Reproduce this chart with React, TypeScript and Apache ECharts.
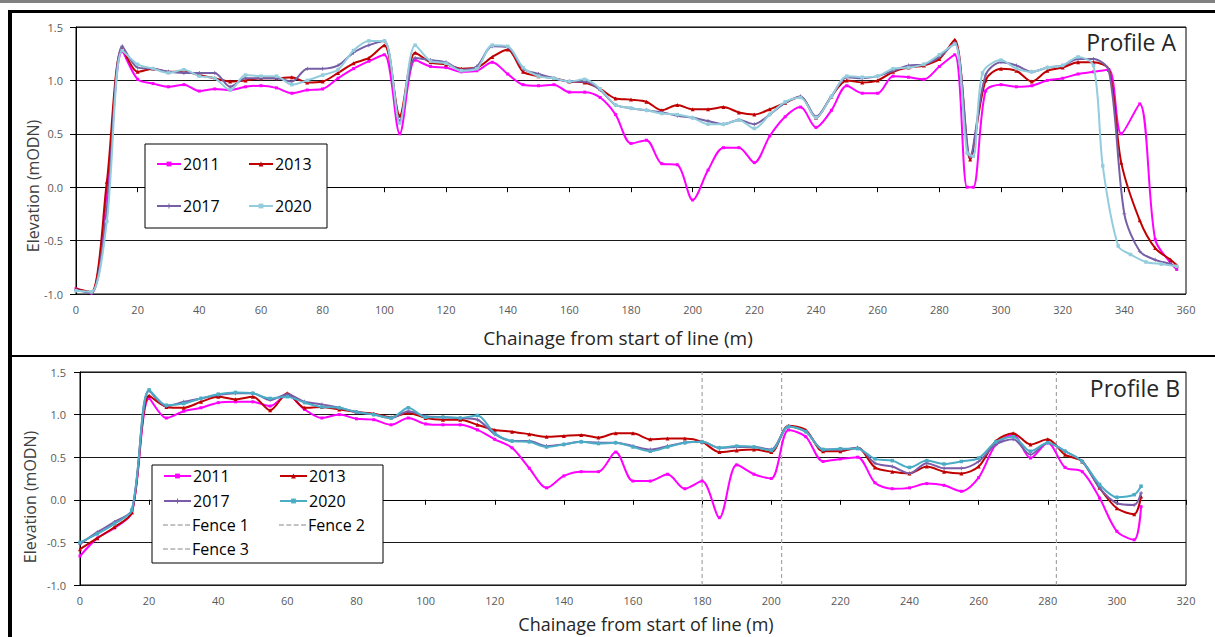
import React, { useEffect, useRef } from "react";
import * as echarts from "echarts";

// ---------- Profile A (chainage m, elevation mODN) ----------
const profileA2011 = [[0,-0.95],[5,-0.99],[10,-0.05],[15,1.27],[20,1.01],[25,0.97],[30,0.94],[35,0.96],[40,0.90],[45,0.92],[50,0.91],[55,0.94],[60,0.95],[65,0.93],[70,0.88],[75,0.91],[80,0.92],[85,1.02],[90,1.11],[95,1.18],[100,1.24],[105,0.50],[110,1.19],[115,1.13],[120,1.12],[125,1.08],[130,1.09],[135,1.17],[140,1.06],[145,0.96],[150,0.95],[155,0.96],[160,0.89],[165,0.89],[170,0.84],[175,0.68],[180,0.41],[185,0.44],[190,0.22],[195,0.21],[200,-0.12],[205,0.16],[210,0.37],[215,0.37],[220,0.23],[225,0.48],[230,0.66],[235,0.75],[240,0.56],[245,0.72],[250,0.95],[255,0.88],[260,0.88],[265,1.04],[270,1.03],[275,1.01],[280,1.13],[285,1.24],[289,0.0],[291,0.0],[295,0.90],[300,0.96],[305,0.94],[310,0.95],[315,1.0],[320,1.02],[325,1.06],[330,1.08],[335,1.10],[339,0.50],[345,0.78],[350,-0.49],[355,-0.71],[357,-0.77]];
const profileA2013 = [[0,-0.95],[5,-0.98],[10,0.05],[15,1.30],[20,1.08],[25,1.11],[30,1.08],[35,1.08],[40,1.05],[45,1.02],[50,0.99],[55,1.0],[60,1.02],[65,1.02],[70,1.03],[75,0.98],[80,0.99],[85,1.07],[90,1.16],[95,1.21],[100,1.33],[105,0.67],[110,1.26],[115,1.17],[120,1.15],[125,1.11],[130,1.12],[135,1.22],[140,1.29],[145,1.08],[150,1.04],[155,1.02],[160,0.99],[165,0.98],[170,0.92],[175,0.83],[180,0.82],[185,0.80],[190,0.72],[195,0.77],[200,0.73],[205,0.73],[210,0.75],[215,0.70],[220,0.68],[225,0.73],[230,0.79],[235,0.85],[240,0.65],[245,0.85],[250,1.0],[255,0.98],[260,1.0],[265,1.08],[270,1.12],[275,1.14],[280,1.20],[285,1.38],[290,0.26],[295,1.0],[300,1.11],[305,1.09],[310,0.99],[315,1.09],[320,1.12],[325,1.17],[330,1.17],[335,1.10],[339,0.23],[345,-0.31],[350,-0.57],[355,-0.68],[357,-0.73]];
const profileA2017 = [[0,-0.96],[5,-0.99],[10,-0.2],[15,1.32],[20,1.12],[25,1.11],[30,1.08],[35,1.07],[40,1.07],[45,1.07],[50,0.94],[55,1.02],[60,1.02],[65,1.02],[70,0.99],[75,1.11],[80,1.11],[85,1.14],[90,1.26],[95,1.33],[100,1.37],[105,0.62],[110,1.21],[115,1.19],[120,1.17],[125,1.10],[130,1.13],[135,1.32],[140,1.31],[145,1.11],[150,1.06],[155,1.02],[160,0.99],[165,0.99],[170,0.91],[175,0.77],[180,0.74],[185,0.72],[190,0.70],[195,0.67],[200,0.65],[205,0.62],[210,0.59],[215,0.63],[220,0.59],[225,0.68],[230,0.79],[235,0.85],[240,0.66],[245,0.85],[250,1.03],[255,1.02],[260,1.04],[265,1.09],[270,1.14],[275,1.15],[280,1.22],[285,1.35],[290,0.29],[295,1.05],[300,1.17],[305,1.14],[310,1.08],[315,1.12],[320,1.14],[325,1.20],[330,1.20],[335,1.09],[340,-0.25],[345,-0.60],[350,-0.68],[355,-0.72],[357,-0.75]];
const profileA2020 = [[0,-0.97],[5,-0.98],[10,-0.32],[15,1.28],[20,1.15],[25,1.11],[30,1.07],[35,1.10],[40,1.04],[45,1.02],[50,0.91],[55,1.05],[60,1.04],[65,1.04],[70,0.96],[75,1.0],[80,1.05],[85,1.10],[90,1.28],[95,1.37],[100,1.37],[105,0.60],[110,1.33],[115,1.18],[120,1.16],[125,1.09],[130,1.11],[135,1.33],[140,1.32],[145,1.12],[150,1.04],[155,1.02],[160,0.99],[165,1.01],[170,0.92],[175,0.77],[180,0.74],[185,0.72],[190,0.69],[195,0.68],[200,0.65],[205,0.59],[210,0.59],[215,0.63],[220,0.55],[225,0.68],[230,0.80],[235,0.84],[240,0.65],[245,0.85],[250,1.04],[255,1.03],[260,1.04],[265,1.11],[270,1.12],[275,1.15],[280,1.24],[285,1.34],[289,0.32],[291,0.29],[294,1.07],[300,1.19],[305,1.11],[310,1.08],[315,1.12],[320,1.14],[325,1.22],[330,1.14],[333,0.20],[338,-0.55],[342,-0.63],[347,-0.70],[352,-0.72],[357,-0.74]];

// ---------- Profile B ----------
const profileB2011 = [[0,-0.66],[5,-0.45],[10,-0.33],[15,-0.15],[20,1.19],[25,0.96],[30,1.04],[35,1.08],[40,1.14],[45,1.15],[50,1.15],[55,1.10],[60,1.23],[65,1.06],[70,0.96],[75,1.0],[80,0.95],[85,0.94],[90,0.88],[95,0.96],[100,0.89],[105,0.88],[110,0.88],[115,0.82],[120,0.71],[125,0.61],[130,0.37],[135,0.14],[140,0.28],[145,0.33],[150,0.33],[155,0.56],[160,0.22],[165,0.22],[170,0.30],[175,0.13],[180,0.22],[185,-0.21],[190,0.41],[195,0.30],[200,0.25],[205,0.82],[210,0.74],[215,0.45],[220,0.48],[225,0.50],[230,0.20],[235,0.13],[240,0.14],[245,0.19],[250,0.17],[255,0.10],[260,0.26],[265,0.65],[270,0.76],[275,0.49],[280,0.67],[285,0.38],[290,0.33],[295,0.02],[300,-0.37],[305,-0.47],[307,-0.08]];
const profileB2013 = [[0,-0.58],[5,-0.45],[10,-0.32],[15,-0.15],[20,1.22],[25,1.09],[30,1.08],[35,1.15],[40,1.21],[45,1.18],[50,1.21],[55,1.05],[60,1.25],[65,1.08],[70,1.09],[75,1.06],[80,1.03],[85,1.01],[90,0.97],[95,1.02],[100,0.96],[105,0.94],[110,0.94],[115,0.88],[120,0.82],[125,0.80],[130,0.77],[135,0.74],[140,0.75],[145,0.76],[150,0.73],[155,0.78],[160,0.78],[165,0.71],[170,0.72],[175,0.72],[180,0.68],[185,0.56],[190,0.58],[195,0.59],[200,0.56],[205,0.87],[210,0.82],[215,0.57],[220,0.57],[225,0.61],[230,0.38],[235,0.33],[240,0.31],[245,0.39],[250,0.33],[255,0.31],[260,0.39],[265,0.69],[270,0.78],[275,0.65],[280,0.71],[285,0.53],[290,0.45],[295,0.14],[300,-0.10],[305,-0.17],[307,0.04]];
const profileB2017 = [[0,-0.52],[5,-0.38],[10,-0.26],[15,-0.12],[20,1.28],[25,1.10],[30,1.15],[35,1.19],[40,1.23],[45,1.25],[50,1.25],[55,1.17],[60,1.24],[65,1.15],[70,1.12],[75,1.08],[80,1.03],[85,1.0],[90,0.96],[95,1.04],[100,0.98],[105,0.97],[110,0.96],[115,0.94],[120,0.77],[125,0.69],[130,0.69],[135,0.63],[140,0.65],[145,0.68],[150,0.67],[155,0.67],[160,0.63],[165,0.59],[170,0.63],[175,0.67],[180,0.68],[185,0.61],[190,0.62],[195,0.62],[200,0.59],[205,0.86],[210,0.80],[215,0.59],[220,0.59],[225,0.61],[230,0.43],[235,0.39],[240,0.31],[245,0.43],[250,0.37],[255,0.37],[260,0.45],[265,0.65],[270,0.71],[275,0.53],[280,0.67],[285,0.57],[290,0.45],[295,0.14],[300,-0.04],[305,-0.06],[307,0.08]];
const profileB2020 = [[0,-0.50],[5,-0.40],[10,-0.28],[15,-0.12],[20,1.29],[25,1.11],[30,1.13],[35,1.19],[40,1.24],[45,1.26],[50,1.25],[55,1.19],[60,1.21],[65,1.14],[70,1.09],[75,1.08],[80,1.03],[85,1.0],[90,0.96],[95,1.08],[100,0.97],[105,0.97],[110,0.96],[115,0.99],[120,0.78],[125,0.69],[130,0.68],[135,0.62],[140,0.65],[145,0.68],[150,0.66],[155,0.67],[160,0.62],[165,0.57],[170,0.62],[175,0.67],[180,0.68],[185,0.61],[190,0.63],[195,0.62],[200,0.58],[205,0.86],[210,0.80],[215,0.59],[220,0.60],[225,0.60],[230,0.48],[235,0.46],[240,0.38],[245,0.46],[250,0.42],[255,0.45],[260,0.49],[265,0.68],[270,0.74],[275,0.57],[280,0.67],[285,0.57],[290,0.45],[295,0.18],[300,0.03],[305,0.06],[307,0.16]];

const fenceChainage = [180, 203, 282.5];
const fenceNames = ["Fence 1", "Fence 2", "Fence 3"];
const elevationRange = [-1.0, 1.5];
const yearNames = ["2011", "2013", "2017", "2020"];

const FONT = "Open Sans";
const crossSymbol = "path://M2,0H3V2H5V3H3V5H2V3H0V2H2Z";
const dashIcon = "path://M0,0H6V2H0Z M9,0H15V2H9Z M18,0H24V2H18Z M27,0H33V2H27Z";

export default function App() {
  const ref = useRef<HTMLDivElement>(null);
  useEffect(() => {
    if (!ref.current) return;
    const chart = echarts.init(ref.current, null, { renderer: "svg" });

    const colorsA = ["#FF00FF", "#C00000", "#7560A6", "#93CDDD"];
    const colorsB = ["#FF00FF", "#C00000", "#7A5CA8", "#4BACC6"];
    const symbols = ["rect", "triangle", crossSymbol, "rect"];
    const symSizes = [3, 4, 4, 3.5];
    const dataA = [profileA2011, profileA2013, profileA2017, profileA2020];
    const dataB = [profileB2011, profileB2013, profileB2017, profileB2020];

    const series: any[] = [];
    yearNames.forEach((y, i) => {
      series.push({
        name: "A" + y, type: "line", xAxisIndex: 0, yAxisIndex: 0,
        data: dataA[i], smooth: 0.3, symbol: symbols[i], symbolSize: symSizes[i],
        showSymbol: true, color: colorsA[i],
        lineStyle: { width: 2, color: colorsA[i] }, itemStyle: { color: colorsA[i] }, z: 2 + i * 0.1,
      });
    });
    yearNames.forEach((y, i) => {
      series.push({
        name: "B" + y, type: "line", xAxisIndex: 1, yAxisIndex: 1,
        data: dataB[i], smooth: 0.3, symbol: symbols[i], symbolSize: symSizes[i],
        showSymbol: true, color: colorsB[i],
        lineStyle: { width: 2, color: colorsB[i] }, itemStyle: { color: colorsB[i] }, z: 2 + i * 0.1,
      });
    });
    fenceChainage.forEach((c, i) => {
      series.push({
        name: fenceNames[i], type: "line", xAxisIndex: 1, yAxisIndex: 1,
        data: [[c, elevationRange[0]], [c, elevationRange[1]]], symbol: "none",
        color: "#A6A6A6",
        lineStyle: { width: 1.2, type: [4, 3], color: "#A6A6A6" }, z: 1,
      });
    });

    const mkLegend = (name: string, left: number, cy: number, iw: number) => {
      const isFence = name.startsWith("Fence");
      const ih = isFence ? 2 : 6;
      return {
        data: [isFence ? { name, icon: dashIcon, itemStyle: { color: "#B0B0B0" } } : name],
        left, top: cy - 9, padding: 0, itemGap: 0,
        itemWidth: iw, itemHeight: ih, selectedMode: false, z: 10,
        formatter: (n: string) => (n.startsWith("A") || n.startsWith("B")) && n.length === 5 ? n.slice(1) : n,
        textStyle: { fontFamily: FONT, fontSize: 16, color: "#000", padding: [0, 0, 0, -3] },
      };
    };

    const xAxisBase = (gi: number, max: number) => ({
      type: "value", gridIndex: gi, min: 0, max, interval: 20,
      axisLine: { show: true, lineStyle: { color: "#000", width: 1 } },
      axisTick: { show: true, length: 5, lineStyle: { color: "#000" } },
      splitLine: { show: false },
      axisLabel: { color: "#595959", fontSize: 11, fontFamily: FONT, margin: 10 },
    });
    const yAxisBase = (gi: number, margin: number) => ({
      type: "value", gridIndex: gi, min: elevationRange[0], max: elevationRange[1], interval: 0.5,
      axisLine: { show: true, lineStyle: { color: "#000", width: 1 } },
      axisTick: { show: true, length: 6, lineStyle: { color: "#000" } },
      splitLine: { show: true, lineStyle: { color: "#1a1a1a", width: 1 } },
      axisLabel: { color: "#595959", fontSize: 11, fontFamily: FONT, margin, formatter: (v: number) => v.toFixed(1) },
    });

    const txt = (text: string, x: number, y: number, size: number, align: string, rot = 0, fill = "#262626") => ({
      type: "text", x, y, rotation: rot, z: 20,
      style: { text, fontSize: size, fontFamily: FONT, fill, align, verticalAlign: "middle" },
    });

    const option: any = {
      animation: false,
      backgroundColor: "#fff",
      textStyle: { fontFamily: FONT },
      grid: [
        { left: 76, top: 27, width: 1110, height: 267, show: true, borderColor: "#000", borderWidth: 1, backgroundColor: "transparent" },
        { left: 80, top: 372, width: 1106, height: 213, show: true, borderColor: "#000", borderWidth: 1, backgroundColor: "transparent" },
      ],
      xAxis: [xAxisBase(0, 360), xAxisBase(1, 320)],
      yAxis: [yAxisBase(0, 13), yAxisBase(1, 14)],
      legend: [
        mkLegend("A2011", 156, 165, 24), mkLegend("A2013", 248, 165, 24),
        mkLegend("A2017", 156, 207, 24), mkLegend("A2020", 248, 207, 24),
        mkLegend("B2011", 163, 477, 27), mkLegend("B2013", 279, 477, 27),
        mkLegend("B2017", 163, 502, 27), mkLegend("B2020", 279, 502, 27),
        mkLegend("Fence 1", 163, 526, 27), mkLegend("Fence 2", 279, 526, 27),
        mkLegend("Fence 3", 163, 550, 27),
      ],
      graphic: [
        { type: "rect", shape: { x: 0, y: 0, width: 1215, height: 3 }, style: { fill: "#808080" }, z: 20 },
        { type: "rect", shape: { x: 8, y: 10, width: 1207, height: 3 }, style: { fill: "#000" }, z: 20 },
        { type: "rect", shape: { x: 8, y: 10, width: 4, height: 627 }, style: { fill: "#000" }, z: 20 },
        { type: "rect", shape: { x: 8, y: 355, width: 1207, height: 2 }, style: { fill: "#000" }, z: 20 },
        { type: "rect", shape: { x: 145, y: 144, width: 182, height: 84 }, style: { fill: "#fff", stroke: "#000", lineWidth: 1 }, z: 5 },
        { type: "rect", shape: { x: 152, y: 465, width: 231, height: 98 }, style: { fill: "#fff", stroke: "#000", lineWidth: 1 }, z: 5 },
        txt("Elevation (mODN)", 33, 186, 16, "center", Math.PI / 2, "#404040"),
        txt("Elevation (mODN)", 30, 497, 16, "center", Math.PI / 2, "#404040"),
        txt("Chainage from start of line (m)", 618, 338, 19, "center"),
        txt("Chainage from start of line (m)", 646, 624, 18, "center"),
        txt("Profile A", 1176, 42, 23, "right"),
        txt("Profile B", 1180, 388, 23, "right"),
      ],
      series,
    };
    chart.setOption(option);
    return () => chart.dispose();
  }, []);
  return <div ref={ref} style={{ position: "fixed", left: 0, top: 0, width: 1215, height: 637, background: "#fff" }} />;
}
